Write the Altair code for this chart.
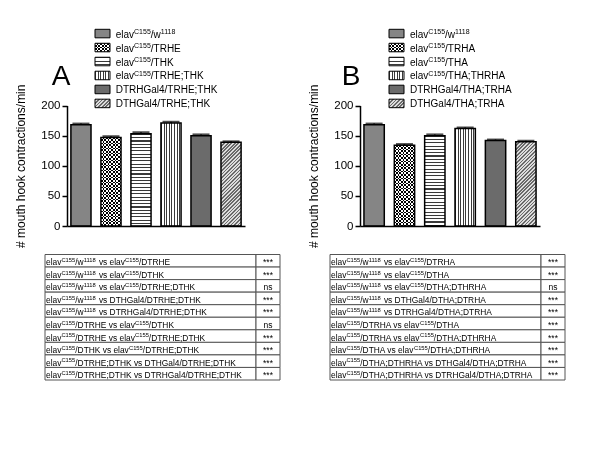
import math
import re
import altair as alt
import pandas as pd

FONT = "Liberation Sans"

# ---------------- data ----------------
A_groups = ["elav^{C155}/w^{1118}", "elav^{C155}/TRHE", "elav^{C155}/THK",
            "elav^{C155}/TRHE;THK", "DTRHGal4/TRHE;THK", "DTHGal4/TRHE;THK"]
A_means = [168, 147, 153, 171, 150, 139]
A_sem = [2, 2, 2.5, 2, 2, 1.5]

B_groups = ["elav^{C155}/w^{1118}", "elav^{C155}/TRHA", "elav^{C155}/THA",
            "elav^{C155}/THA;THRHA", "DTRHGal4/THA;TRHA", "DTHGal4/THA;TRHA"]
B_means = [168, 134, 150, 162, 142, 140]
B_sem = [2, 2, 2, 1.5, 1.5, 1.5]

A_comparisons = [
    "elav^{C155}/w^{1118} vs elav^{C155}/DTRHE",
    "elav^{C155}/w^{1118} vs elav^{C155}/DTHK",
    "elav^{C155}/w^{1118} vs elav^{C155}/DTRHE;DTHK",
    "elav^{C155}/w^{1118} vs DTHGal4/DTRHE;DTHK",
    "elav^{C155}/w^{1118} vs DTRHGal4/DTRHE;DTHK",
    "elav^{C155}/DTRHE vs elav^{C155}/DTHK",
    "elav^{C155}/DTRHE vs elav^{C155}/DTRHE;DTHK",
    "elav^{C155}/DTHK vs elav^{C155}/DTRHE;DTHK",
    "elav^{C155}/DTRHE;DTHK vs DTHGal4/DTRHE;DTHK",
    "elav^{C155}/DTRHE;DTHK vs DTRHGal4/DTRHE;DTHK",
]
A_significance = ["***", "***", "ns", "***", "***", "ns", "***", "***", "***", "***"]

B_comparisons = [
    "elav^{C155}/w^{1118} vs elav^{C155}/DTRHA",
    "elav^{C155}/w^{1118} vs elav^{C155}/DTHA",
    "elav^{C155}/w^{1118} vs elav^{C155}/DTHA;DTHRHA",
    "elav^{C155}/w^{1118} vs DTHGal4/DTHA;DTRHA",
    "elav^{C155}/w^{1118} vs DTRHGal4/DTHA;DTRHA",
    "elav^{C155}/DTRHA vs elav^{C155}/DTHA",
    "elav^{C155}/DTRHA vs elav^{C155}/DTHA;DTHRHA",
    "elav^{C155}/DTHA vs elav^{C155}/DTHA;DTHRHA",
    "elav^{C155}/DTHA;DTHRHA vs DTHGal4/DTHA;DTRHA",
    "elav^{C155}/DTHA;DTHRHA vs DTRHGal4/DTHA;DTRHA",
]
B_significance = ["***", "***", "ns", "***", "***", "***", "***", "***", "***", "***"]

y_ticks = [0, 50, 100, 150, 200]
y_title = "# mouth hook contractions/min"
panel_letters = ["A", "B"]

# ---------------- layout ----------------
W_TOTAL, H_TOTAL = 584, 434
Y_ZERO, Y_TOP = 218, 97.5
GEO = {
    "A": dict(ax=59, xe=237, sw=87, tx=107.7, tl=37, ts=248, tr=272),
    "B": dict(ax=352, xe=532, sw=381, tx=402, tl=322, ts=533, tr=557),
}
LETTER_X = [53, 343]
LEG_RANGE = [21.3, 99.7]
LEG_PI = 0.39
TAB_RANGE = [246.5, 372]
SW_W = 15

# Arial / Liberation Sans advance widths (per 1000 em)
CW = {' ': 278, '/': 278, ';': 278, '*': 389, 'a': 556, 'e': 556, 'l': 222,
      'v': 500, 'w': 722, 's': 500, 'n': 556, 'A': 667, 'C': 722, 'D': 722,
      'E': 667, 'G': 778, 'H': 722, 'K': 667, 'R': 722, 'T': 611}


def text_width(t, fs):
    return sum(CW.get(c, 556) for c in t) * fs / 1000.0


def segments(s, fs, fs_sup):
    out, off = [], 0.0
    for part in re.split(r"(\^\{[^}]*\})", s):
        if not part:
            continue
        sup = part.startswith("^{")
        t = part[2:-1] if sup else part
        size = fs_sup if sup else fs
        stripped = t.lstrip(" ")
        off += text_width(t[:len(t) - len(stripped)], size)
        out.append(dict(off=off, text=stripped, sup=sup))
        off += text_width(stripped, size)
    return out


def grad_stripes(length, period, lw, c_line, c_bg, vec):
    stops = []
    pos = 0.0
    while pos < length - 1e-6:
        s = pos / length
        e = min((pos + lw) / length, 1.0)
        n = min((pos + period) / length, 1.0)
        stops += [(s, c_line), (e, c_line), (e, c_bg), (n, c_bg)]
        pos += period
    x1, y1, x2, y2 = vec
    return {"gradient": "linear", "x1": x1, "y1": y1, "x2": x2, "y2": y2,
            "stops": [{"offset": round(o, 4), "color": c} for o, c in stops]}


def pattern(k, w, h):
    if k == 0:
        return [("#858585", None)]
    if k == 1:
        return [(grad_stripes(w, 3.4, 1.7, "black", "white", (0, 0, 1, 0)), None),
                (grad_stripes(h, 3.4, 1.7, "white", "black", (0, 0, 0, 1)), "difference")]
    if k == 2:
        return [(grad_stripes(h, 3.3, 1.1, "#3a3a3a", "white", (0, 0, 0, 1)), None)]
    if k == 3:
        return [(grad_stripes(w, 2.6, 1.0, "#3a3a3a", "white", (0, 0, 1, 0)), None)]
    if k == 4:
        return [("#6b6b6b", None)]
    kk = h / w
    a = (1 + kk) / (1 + kk * kk)
    b = kk * a
    L = (w + h) / math.sqrt(2)
    return [(grad_stripes(L, 2.5, 1.2, "#6a6a6a", "#dcdcdc", (0, 0, a, b)), None)]


def mark_kwargs(fill, blend):
    kw = dict(fill=fill)
    if blend:
        kw["blend"] = blend
    return kw


def bar_panel(p, means, sems):
    g = GEO[p]
    df = pd.DataFrame(dict(i=list(range(6)), value=means,
                           hi=[m + s for m, s in zip(means, sems)]))
    xs = alt.Scale(type="band", domain=list(range(6)), range=[g["ax"], g["xe"]],
                   paddingInner=0.33, paddingOuter=0.13)
    ys = alt.Scale(domain=[0, 200], range=[Y_ZERO, Y_TOP], nice=False, zero=True)
    x_axis = alt.Axis(orient="bottom", offset=Y_ZERO - H_TOTAL, labels=False, ticks=False,
                      title="", domainColor="black", domainWidth=1.5, grid=False, zindex=2)
    y_axis = alt.Axis(orient="left", offset=-g["ax"], values=y_ticks, title=y_title,
                      titleFont=FONT, titleFontSize=12, titleFontWeight="normal",
                      titleColor="black", titlePadding=13, labelFont=FONT,
                      labelFontSize=11.5, labelColor="black", labelPadding=2,
                      tickSize=5, tickWidth=1.5, tickColor="black",
                      domainColor="black", domainWidth=1.5, grid=False, zindex=2)
    X = alt.X("i:O", scale=xs, axis=x_axis)
    Y = alt.Y("value:Q", scale=ys, axis=y_axis)
    step = (g["xe"] - g["ax"]) / (6 - 0.33 + 0.26)
    bw = step * 0.67
    base = alt.Chart(df)
    layers = []
    for k in range(6):
        h = means[k] / 200 * (Y_ZERO - Y_TOP)
        for fill, blend in pattern(k, bw, h):
            layers.append(
                base.transform_filter(alt.datum.i == k)
                .mark_bar(**mark_kwargs(fill, blend))
                .encode(x=X, y=Y)
            )
    layers.append(base.mark_bar(fill="white", fillOpacity=0, stroke="black", strokeWidth=1.5)
                  .encode(x=X, y=Y))
    layers.append(base.mark_rule(color="black", strokeWidth=1.5)
                  .encode(x=X, y=Y, y2="hi:Q"))
    layers.append(base.mark_tick(color="black", thickness=2, size=17, orient="horizontal")
                  .encode(x=X, y=alt.Y("hi:Q", scale=ys, axis=y_axis)))
    return alt.layer(*layers)


def seg_layers(lines, x0, yscale, fs, fs_sup, dy, raise_px):
    rows = []
    for r, s in enumerate(lines):
        for seg in segments(s, fs, fs_sup):
            rows.append(dict(row=r, **seg))
    df = pd.DataFrame(rows)
    xs = alt.Scale(domain=[0, 100], range=[x0, x0 + 100], zero=False, nice=False)
    out = []
    for sup, size, ddy in [(False, fs, dy), (True, fs_sup, dy - raise_px)]:
        sub = df[df["sup"] == sup][["row", "off", "text"]]
        out.append(alt.Chart(sub).mark_text(align="left", baseline="alphabetic", font=FONT,
                                            fontSize=size, dy=ddy, color="black")
                   .encode(x=alt.X("off:Q", scale=xs, axis=None),
                           y=alt.Y("row:O", scale=yscale, axis=None),
                           text="text:N"))
    return out


def legend_panel(p, groups):
    g = GEO[p]
    ys = alt.Scale(type="band", domain=list(range(6)), range=LEG_RANGE,
                   paddingInner=LEG_PI, paddingOuter=0)
    step = (LEG_RANGE[1] - LEG_RANGE[0]) / (6 - LEG_PI)
    sh = step * (1 - LEG_PI)
    df = pd.DataFrame(dict(row=list(range(6))))
    base = alt.Chart(df)
    layers = []
    for k in range(6):
        for fill, blend in pattern(k, SW_W, sh):
            layers.append(base.transform_filter(alt.datum.row == k)
                          .mark_rect(**mark_kwargs(fill, blend))
                          .encode(x=alt.value(g["sw"]), x2=alt.value(g["sw"] + SW_W),
                                  y=alt.Y("row:O", scale=ys, axis=None)))
    layers.append(base.mark_rect(fill="white", fillOpacity=0, stroke="black", strokeWidth=1)
                  .encode(x=alt.value(g["sw"]), x2=alt.value(g["sw"] + SW_W),
                          y=alt.Y("row:O", scale=ys, axis=None)))
    layers += seg_layers(groups, g["tx"], ys, 10, 7, 4, 3.6)
    return alt.layer(*layers)


def table_panel(p, comps, sigs):
    g = GEO[p]
    n = len(comps)
    ys = alt.Scale(type="band", domain=list(range(n)), range=TAB_RANGE,
                   paddingInner=0, paddingOuter=0)
    df = pd.DataFrame(dict(row=list(range(n)), sig=sigs))
    base = alt.Chart(df)
    layers = [
        base.mark_rect(fill="white", stroke="#555", strokeWidth=1)
        .encode(x=alt.value(g["tl"]), x2=alt.value(g["ts"]),
                y=alt.Y("row:O", scale=ys, axis=None)),
        base.mark_rect(fill="white", stroke="#555", strokeWidth=1)
        .encode(x=alt.value(g["ts"]), x2=alt.value(g["tr"]),
                y=alt.Y("row:O", scale=ys, axis=None)),
    ]
    layers += seg_layers(comps, g["tl"] + 1, ys, 8.4, 5.8, 4.5, 3.2)
    layers.append(base.mark_text(align="center", baseline="alphabetic", font=FONT,
                                 fontSize=8.5, dy=4.5, color="black")
                  .encode(x=alt.value((g["ts"] + g["tr"]) / 2),
                          y=alt.Y("row:O", scale=ys, axis=None), text="sig:N"))
    return alt.layer(*layers)


letters = alt.Chart(pd.DataFrame(dict(letter=panel_letters))).mark_text(
    font=FONT, fontSize=28, baseline="middle", align="center", color="black"
).encode(
    x=alt.X("letter:N", scale=alt.Scale(type="point", domain=panel_letters,
                                        range=LETTER_X, padding=0), axis=None),
    y=alt.value(69),
    text="letter:N",
)

chart = alt.layer(
    bar_panel("A", A_means, A_sem),
    bar_panel("B", B_means, B_sem),
    legend_panel("A", A_groups),
    legend_panel("B", B_groups),
    table_panel("A", A_comparisons, A_significance),
    table_panel("B", B_comparisons, B_significance),
    letters,
).resolve_scale(x="independent", y="independent").properties(
    width=W_TOTAL, height=H_TOTAL, background="white",
    autosize=alt.AutoSizeParams(type="none"), padding=0,
).configure_view(stroke=None)

chart.save("out.html", embed_options={"renderer": "svg", "actions": False})
